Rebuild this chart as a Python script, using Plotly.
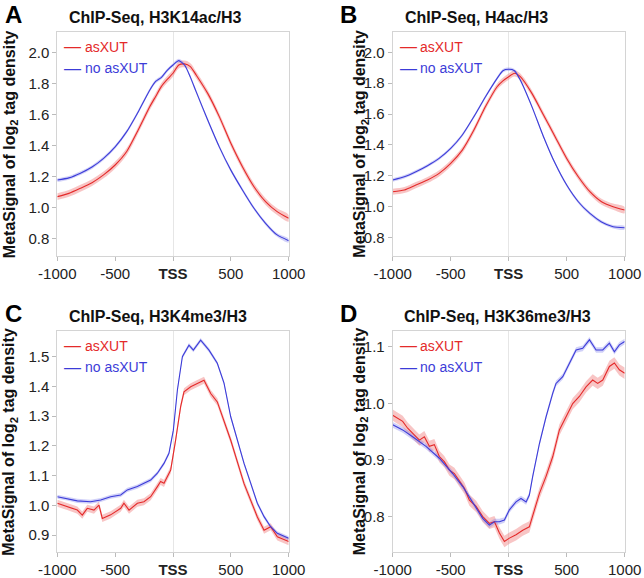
import plotly.graph_objects as go

# ---------------- data ----------------
# Panel A: ChIP-Seq, H3K14ac/H3
A_x = [-1000, -900, -800, -700, -600, -500, -400, -300, -200, -150, -100, -50, 0, 50, 100, 150, 200, 300, 400, 500, 600, 700, 800, 900, 1000]
A_blue = [1.176, 1.19, 1.22, 1.26, 1.316, 1.39, 1.488, 1.617, 1.757, 1.812, 1.838, 1.884, 1.918, 1.946, 1.918, 1.84, 1.746, 1.563, 1.39, 1.24, 1.112, 0.994, 0.897, 0.822, 0.785]
A_red = [1.069, 1.09, 1.123, 1.159, 1.209, 1.273, 1.36, 1.5, 1.65, 1.715, 1.78, 1.825, 1.865, 1.918, 1.925, 1.908, 1.854, 1.735, 1.585, 1.413, 1.262, 1.133, 1.037, 0.972, 0.929]

# Panel B: ChIP-Seq, H4ac/H3
B_x = [-1000, -900, -800, -700, -600, -500, -400, -300, -200, -100, -50, 0, 50, 100, 200, 300, 400, 500, 600, 700, 800, 900, 1000]
B_blue = [1.172, 1.193, 1.226, 1.265, 1.312, 1.377, 1.464, 1.583, 1.712, 1.831, 1.881, 1.89, 1.881, 1.82, 1.648, 1.453, 1.28, 1.139, 1.031, 0.955, 0.9, 0.869, 0.862]
B_red = [1.096, 1.107, 1.139, 1.172, 1.215, 1.28, 1.366, 1.496, 1.648, 1.777, 1.815, 1.842, 1.864, 1.842, 1.734, 1.594, 1.453, 1.312, 1.193, 1.096, 1.031, 0.999, 0.977]

# Panel C: ChIP-Seq, H3K4me3/H3
C_blue_x = [-1000, -914, -827, -712, -625, -539, -452, -395, -308, -251, -193, -135, -78, -35, 3, 38, 81, 138, 176, 239, 311, 383, 441, 499, 556, 614, 672, 729, 787, 844, 902, 1000]
C_blue = [1.029, 1.023, 1.015, 1.012, 1.018, 1.029, 1.035, 1.052, 1.063, 1.074, 1.085, 1.108, 1.141, 1.175, 1.253, 1.388, 1.5, 1.539, 1.522, 1.556, 1.522, 1.478, 1.411, 1.298, 1.22, 1.141, 1.074, 1.007, 0.962, 0.928, 0.906, 0.889]
C_red_x = [-1000, -914, -827, -784, -741, -683, -640, -611, -539, -452, -424, -380, -308, -251, -193, -135, -107, -78, -20, 23, 66, 95, 153, 210, 268, 326, 383, 499, 614, 729, 787, 844, 902, 1000]
C_red = [1.007, 0.996, 0.984, 0.967, 0.99, 0.984, 1.001, 0.956, 0.968, 0.99, 1.007, 0.984, 1.007, 1.012, 1.029, 1.063, 1.08, 1.074, 1.119, 1.22, 1.332, 1.382, 1.399, 1.41, 1.421, 1.376, 1.348, 1.219, 1.073, 0.961, 0.916, 0.928, 0.894, 0.878]

# Panel D: ChIP-Seq, H3K36me3/H3
D_blue_x = [-1000, -914, -828, -713, -598, -483, -396, -310, -224, -167, -123, -80, -37, 6, 63, 106, 150, 178, 207, 265, 322, 380, 408, 466, 523, 581, 638, 696, 753, 811, 868, 911, 954, 1000]
D_blue = [0.962, 0.953, 0.941, 0.924, 0.903, 0.876, 0.853, 0.824, 0.797, 0.785, 0.791, 0.791, 0.794, 0.812, 0.826, 0.832, 0.826, 0.838, 0.871, 0.929, 0.976, 1.018, 1.035, 1.047, 1.071, 1.094, 1.097, 1.112, 1.094, 1.094, 1.106, 1.091, 1.103, 1.109]
D_red_x = [-1000, -957, -914, -871, -828, -770, -727, -684, -641, -598, -555, -511, -468, -425, -382, -339, -281, -224, -167, -123, -80, -37, 6, 63, 121, 178, 221, 265, 322, 380, 437, 494, 552, 609, 667, 724, 767, 811, 868, 911, 954, 1000]
D_red = [0.979, 0.974, 0.968, 0.956, 0.947, 0.935, 0.941, 0.924, 0.927, 0.906, 0.897, 0.882, 0.876, 0.862, 0.85, 0.829, 0.818, 0.8, 0.788, 0.791, 0.771, 0.756, 0.762, 0.768, 0.776, 0.782, 0.812, 0.841, 0.871, 0.906, 0.953, 0.976, 0.9995, 1.012, 1.029, 1.041, 1.035, 1.041, 1.065, 1.071, 1.059, 1.053]

# confidence band half-widths (one value per series)
A_band = {"red": 0.022, "blue": 0.012}
B_band = {"red": 0.020, "blue": 0.011}
C_band = {"red": 0.012, "blue": 0.007}
D_band = {"red": 0.010, "blue": 0.005}

series_names = {"red": "asXUT", "blue": "no asXUT"}
panel_titles = ["ChIP-Seq, H3K14ac/H3", "ChIP-Seq, H4ac/H3", "ChIP-Seq, H3K4me3/H3", "ChIP-Seq, H3K36me3/H3"]
panel_letters = ["A", "B", "C", "D"]
x_tickvals = [-1000, -500, 0, 500, 1000]
x_ticktext = ["-1000", "-500", "<b>TSS</b>", "500", "1000"]
y_ticks = [[0.8, 1.0, 1.2, 1.4, 1.6, 1.8, 2.0],
           [0.8, 1.0, 1.2, 1.4, 1.6, 1.8, 2.0],
           [0.9, 1.0, 1.1, 1.2, 1.3, 1.4, 1.5],
           [0.8, 0.9, 1.0, 1.1]]
y_ranges = [[0.686, 2.129], [0.679, 2.13], [0.842, 1.5855], [0.737, 1.127]]

# ---------------- styling ----------------
W, H = 644, 578
LINE = {"red": "#e42a2a", "blue": "#3c3cd8"}
FILL = {"red": "rgba(238,110,110,0.40)", "blue": "rgba(120,120,235,0.34)"}
FONT = "Arial, Liberation Sans, Helvetica, sans-serif"

# plot areas in pixels: (left, right, top, bottom)
boxes = [(57.3, 288.7, 32.3, 256.0),
         (392.7, 624.7, 32.3, 256.0),
         (57.3, 288.7, 331.3, 552.3),
         (392.7, 624.7, 331.3, 552.3)]

panels = [
    (A_x, A_red, A_x, A_blue, A_band),
    (B_x, B_red, B_x, B_blue, B_band),
    (C_red_x, C_red, C_blue_x, C_blue, C_band),
    (D_red_x, D_red, D_blue_x, D_blue, D_band),
]

fig = go.Figure()
annotations = []

for i, ((rx, ry, bx, by, band), box) in enumerate(zip(panels, boxes)):
    n = i + 1
    xa = "x" if n == 1 else f"x{n}"
    ya = "y" if n == 1 else f"y{n}"
    shape = "spline" if i < 2 else "linear"
    for key, xs, ys in (("red", rx, ry), ("blue", bx, by)):
        hw = band[key]
        upper = [v + hw for v in ys]
        lower = [v - hw for v in ys]
        fig.add_trace(go.Scatter(
            x=list(xs) + list(xs)[::-1], y=upper + lower[::-1],
            fill="toself", fillcolor=FILL[key], line=dict(width=0, shape=shape),
            mode="lines", hoverinfo="skip", showlegend=False, xaxis=xa, yaxis=ya))
    for key, xs, ys in (("red", rx, ry), ("blue", bx, by)):
        fig.add_trace(go.Scatter(
            x=xs, y=ys, mode="lines", name=series_names[key],
            line=dict(color=LINE[key], width=1.1, shape=shape, smoothing=0.6),
            showlegend=False, xaxis=xa, yaxis=ya))

    left, right, top, bottom = box
    dom_x = [left / W, right / W]
    dom_y = [1 - bottom / H, 1 - top / H]
    axis_common = dict(showline=True, linecolor="#d4d4d4", linewidth=1, mirror=True,
                       ticks="outside", ticklen=4, tickcolor="#bbbbbb",
                       tickfont=dict(family=FONT, size=15, color="#222222"),
                       showgrid=False, automargin=False)
    fig.update_layout(**{
        ("xaxis" if n == 1 else f"xaxis{n}"): dict(
            domain=dom_x, anchor=ya, range=[-1000, 1000], tickvals=x_tickvals,
            ticktext=x_ticktext, zeroline=True, zerolinecolor="#e6e6e6",
            zerolinewidth=1, **axis_common),
        ("yaxis" if n == 1 else f"yaxis{n}"): dict(
            domain=dom_y, anchor=xa, range=y_ranges[i], tickvals=y_ticks[i],
            tickformat=".1f", zeroline=False, **axis_common),
    })

    title_cx = [155.5, 476.5, 158.0, 497.0][i]
    annotations.append(dict(text=f"<b>{panel_titles[i]}</b>", x=title_cx / W,
                            y=1 - (top - 15) / H, xref="paper", yref="paper",
                            xanchor="center", yanchor="middle", showarrow=False,
                            font=dict(family=FONT, size=16, color="#111111")))
    annotations.append(dict(text=f"<b>{panel_letters[i]}</b>",
                            x=(3 if i % 2 == 0 else 338) / W, y=1 - (top - 17.5) / H,
                            xref="paper", yref="paper", xanchor="left", yanchor="middle",
                            showarrow=False, font=dict(family=FONT, size=24, color="#000000")))
    annotations.append(dict(text="<b>MetaSignal of log<sub>2</sub> tag density</b>",
                            x=(10 if i % 2 == 0 else 360.5) / W, y=1 - ((top + bottom) / 2) / H,
                            xref="paper", yref="paper", xanchor="center", yanchor="middle",
                            textangle=-90, showarrow=False,
                            font=dict(family=FONT, size=16, color="#111111")))
    for j, key in enumerate(("red", "blue")):
        yy = 1 - (top + 14.4 + 21.6 * j) / H
        annotations.append(dict(text="—", x=(left + 5) / W, y=yy, xref="paper", yref="paper",
                                xanchor="left", yanchor="middle", showarrow=False,
                                font=dict(family=FONT, size=17, color=LINE[key])))
        annotations.append(dict(text=series_names[key], x=(left + 25.5) / W, y=yy,
                                xref="paper", yref="paper", xanchor="left", yanchor="middle",
                                showarrow=False, font=dict(family=FONT, size=14, color=LINE[key])))

fig.update_layout(width=W, height=H, margin=dict(l=0, r=0, t=0, b=0, autoexpand=False),
                  paper_bgcolor="white", plot_bgcolor="white", showlegend=False,
                  annotations=annotations, font=dict(family=FONT))

fig.write_html("out.html", config={"displayModeBar": False},
               post_script="document.body.style.margin='0px';")
